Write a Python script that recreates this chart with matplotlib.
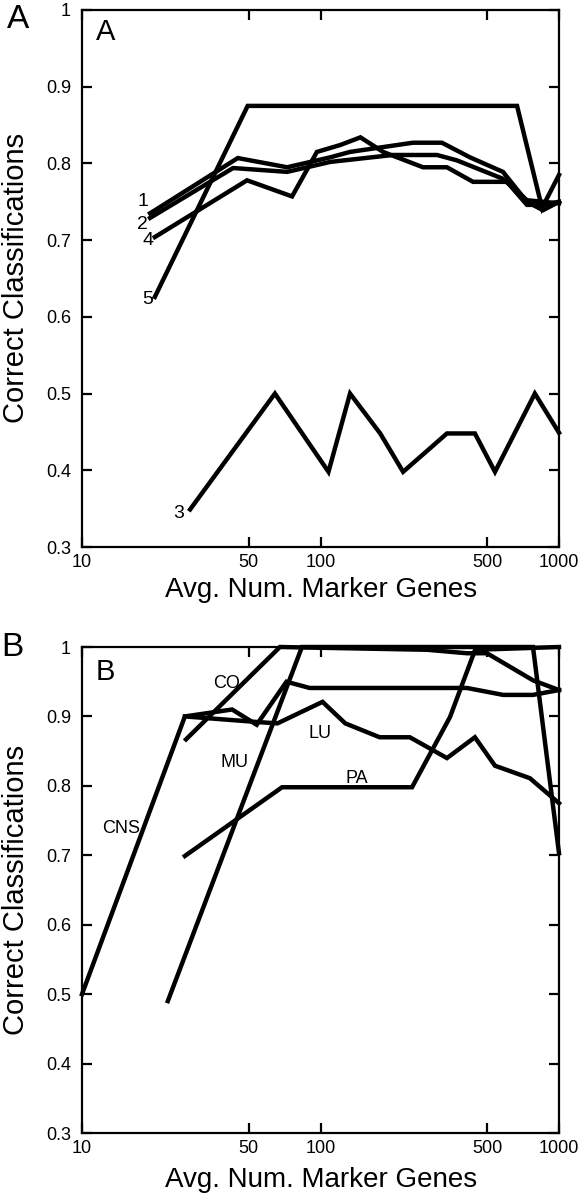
import matplotlib
matplotlib.use('Agg')
import matplotlib.pyplot as plt
from matplotlib.ticker import FixedLocator, FuncFormatter, NullLocator

plt.rcParams['font.family'] = ['Liberation Sans', 'DejaVu Sans']

# panel A: curves 1-5
x1 = [19.3, 45, 72.5, 110, 133, 244, 323, 423, 582, 734, 857, 1000]
y1 = [0.735, 0.807, 0.795, 0.808, 0.815, 0.827, 0.827, 0.808, 0.789, 0.750, 0.739, 0.750]
x2 = [19.3, 43, 72.5, 110, 201, 308, 373, 582, 734, 1000]
y2 = [0.729, 0.794, 0.789, 0.802, 0.811, 0.811, 0.804, 0.780, 0.752, 0.748]
x3 = [28.4, 64.4, 108, 133, 178, 222, 339, 444, 539, 792, 1000]
y3 = [0.349, 0.500, 0.398, 0.500, 0.448, 0.398, 0.448, 0.448, 0.398, 0.500, 0.449]
x4 = [20.2, 49.2, 76, 96.6, 121, 147, 183, 269, 339, 436, 605, 734, 857, 1000]
y4 = [0.704, 0.778, 0.757, 0.815, 0.824, 0.834, 0.815, 0.795, 0.795, 0.776, 0.776, 0.746, 0.746, 0.750]
x5 = [20.2, 49.5, 667, 849, 1000]
y5 = [0.626, 0.875, 0.875, 0.742, 0.785]
labels_a = ['1', '2', '3', '4', '5']
lab_a_x = [18.0, 18.0, 25.5, 18.9, 18.9]
lab_a_y = [0.750, 0.721, 0.344, 0.700, 0.622]

# panel B: tumour types
x_cns = [10, 27, 42.6, 54, 72, 90, 411, 583, 778, 1000]
y_cns = [0.50, 0.90, 0.91, 0.888, 0.95, 0.941, 0.941, 0.931, 0.931, 0.938]
x_lu = [27, 54, 66, 102, 127, 177, 237, 339, 444, 539, 755, 1000]
y_lu = [0.90, 0.892, 0.89, 0.921, 0.890, 0.870, 0.870, 0.840, 0.870, 0.829, 0.811, 0.775]
x_co = [27.3, 67.6, 280, 411, 499, 778, 1000]
y_co = [0.867, 1.0, 0.996, 0.991, 0.991, 0.952, 0.938]
x_mu = [22.9, 83.6, 778, 1000]
y_mu = [0.49, 1.0, 1.0, 0.703]
x_pa = [27, 69, 242, 349, 445, 1000]
y_pa = [0.699, 0.798, 0.798, 0.899, 0.996, 1.0]
labels_b = ['CO', 'LU', 'MU', 'PA', 'CNS']
lab_b_x = [40.2, 100, 43.7, 142, 14.6]
lab_b_y = [0.948, 0.876, 0.834, 0.811, 0.739]

xticks = [10, 50, 100, 500, 1000]
yticks = [0.3, 0.4, 0.5, 0.6, 0.7, 0.8, 0.9, 1.0]

W, H = 581, 1199
fig = plt.figure(figsize=(W / 100, H / 100), dpi=100)
ax1 = fig.add_axes([82 / W, 1 - 547 / H, 477 / W, 537 / H])
ax2 = fig.add_axes([82 / W, 1 - 1133 / H, 477 / W, 486 / H])


def style(ax):
    ax.set_xscale('log')
    ax.set_xlim(10, 1000)
    ax.set_ylim(0.3, 1.0)
    ax.xaxis.set_major_locator(FixedLocator(xticks))
    ax.xaxis.set_minor_locator(NullLocator())
    ax.xaxis.set_major_formatter(FuncFormatter(lambda v, p: '%d' % v))
    ax.yaxis.set_major_locator(FixedLocator(yticks))
    ax.yaxis.set_major_formatter(FuncFormatter(lambda v, p: '1' if v > 0.99 else '%.1f' % v))
    ax.tick_params(direction='in', length=7, width=1.6, top=True, right=True,
                   labelsize=13)
    ax.tick_params(axis='y', pad=8)
    ax.tick_params(axis='x', pad=5)
    for s in ax.spines.values():
        s.set_linewidth(1.6)


lw = 3.2
for xs, ys in [(x1, y1), (x2, y2), (x3, y3), (x4, y4), (x5, y5)]:
    ax1.plot(xs, ys, color='black', lw=lw, solid_joinstyle='miter', clip_on=False)
for t, tx, ty in zip(labels_a, lab_a_x, lab_a_y):
    ax1.text(tx, ty, t, fontsize=14, ha='center', va='center')
style(ax1)

for xs, ys in [(x_cns, y_cns), (x_lu, y_lu), (x_co, y_co), (x_mu, y_mu), (x_pa, y_pa)]:
    ax2.plot(xs, ys, color='black', lw=lw, solid_joinstyle='miter', clip_on=False)
for t, tx, ty in zip(labels_b, lab_b_x, lab_b_y):
    ax2.text(tx, ty, t, fontsize=13, ha='center', va='center')
style(ax2)

# panel letters
fig.text(18 / W, 1 - 20 / H, 'A', fontsize=24, ha='center', va='center')
fig.text(106 / W, 1 - 32 / H, 'A', fontsize=21, ha='center', va='center')
fig.text(12 / W, 1 - 648 / H, 'B', fontsize=24, ha='center', va='center')
fig.text(105 / W, 1 - 672 / H, 'B', fontsize=21, ha='center', va='center')

# axis titles
fig.text(16 / W, 1 - 278 / H, 'Correct Classifications', fontsize=21,
         rotation=90, ha='center', va='center')
fig.text(16 / W, 1 - 890 / H, 'Correct Classifications', fontsize=21,
         rotation=90, ha='center', va='center')
fig.text(321 / W, 1 - 590 / H, 'Avg. Num. Marker Genes', fontsize=20,
         ha='center', va='center')
fig.text(321 / W, 1 - 1180 / H, 'Avg. Num. Marker Genes', fontsize=20,
         ha='center', va='center')

fig.savefig('out.png', dpi=100, facecolor='white')
